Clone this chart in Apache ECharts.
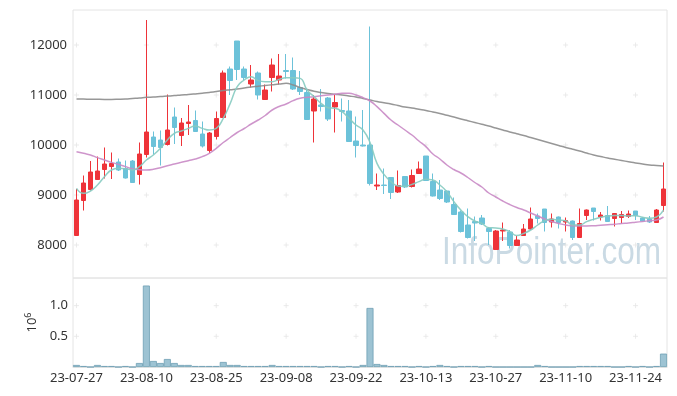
<!DOCTYPE html>
<html><head><meta charset="utf-8">
<script src="https://cdn.jsdelivr.net/npm/echarts@6/dist/echarts.min.js"></script>
<style>html,body{margin:0;padding:0;background:#fff}#c{width:677px;height:396px}</style>
</head><body><div id="c"></div>
<script>
var dates = ['23-07-27','23-07-28','23-07-31','23-08-01','23-08-02','23-08-03','23-08-04','23-08-07','23-08-08','23-08-09',
'23-08-10','23-08-11','23-08-14','23-08-16','23-08-17','23-08-18','23-08-21','23-08-22','23-08-23','23-08-24',
'23-08-25','23-08-28','23-08-29','23-08-30','23-08-31','23-09-01','23-09-04','23-09-05','23-09-06','23-09-07',
'23-09-08','23-09-11','23-09-12','23-09-13','23-09-14','23-09-15','23-09-18','23-09-19','23-09-20','23-09-21',
'23-09-22','23-09-25','23-09-26','23-09-27','23-10-04','23-10-05','23-10-06','23-10-10','23-10-11','23-10-12',
'23-10-13','23-10-16','23-10-17','23-10-18','23-10-19','23-10-20','23-10-23','23-10-24','23-10-25','23-10-26',
'23-10-27','23-10-30','23-10-31','23-11-01','23-11-02','23-11-03','23-11-06','23-11-07','23-11-08','23-11-09',
'23-11-10','23-11-13','23-11-14','23-11-15','23-11-16','23-11-17','23-11-20','23-11-21','23-11-22','23-11-23',
'23-11-24','23-11-27','23-11-28','23-11-29','23-11-30'];

var openP = [8190,8890,9110,9310,9510,9570,9660,9530,9680,9410,
9810,10160,10100,10010,10560,10190,10430,10490,10220,9890,
10170,10550,11520,12080,11520,11220,11440,10910,11350,11300,
11490,11490,11150,11050,10680,10800,10940,10760,10690,10680,
10080,10000,10000,9180,9200,9350,9060,9370,9170,9430,
9780,9270,9100,9080,8810,8660,8400,8470,8540,8330,
7910,8280,8260,7990,8190,8320,8580,8720,8460,8560,
8460,8480,8150,8590,8740,8560,8590,8530,8550,8570,
8680,8540,8520,8450,8790];
var closeP = [8900,9240,9460,9480,9620,9630,9500,9340,9250,9820,
10260,9970,9950,10300,10350,10440,10460,10270,9980,10240,
10530,11440,11290,11510,11350,11300,11000,11100,11600,11380,
11470,11120,11070,10510,10920,10770,10520,10850,10670,10070,
9990,9980,9230,9200,9190,9050,9190,9160,9390,9520,
9290,8980,8930,8860,8610,8270,8150,8440,8420,8270,
8280,8300,7990,8100,8320,8520,8530,8450,8520,8450,
8490,8150,8430,8700,8670,8600,8470,8630,8610,8620,
8590,8480,8460,8700,9120];
var lowP = [8180,8690,9090,9300,9330,9320,9480,9330,9240,9210,
9750,9810,9590,9990,10020,9980,10200,10260,9950,9840,
10110,10540,11000,11300,11300,11150,10910,10900,11070,11210,
11330,11100,11000,10500,10050,10670,10480,10250,10470,10060,
9750,9970,9190,9100,9020,8920,9040,9140,9150,9420,
9280,8970,8900,8840,8600,8250,8130,8080,8400,8000,
7900,8080,7930,7980,8180,8300,8430,8270,8350,8330,
8270,8100,8140,8500,8490,8490,8460,8370,8430,8540,
8500,8470,8440,8440,8670];
var highP = [9120,9390,9680,9770,9950,9850,9730,9690,9700,10050,
12500,10270,10290,11010,10750,10540,10800,10690,10470,10260,
10670,11490,11570,12080,11570,11600,11470,11210,11730,11820,
11820,11750,11480,11100,11000,11120,10960,11000,10930,10900,
10570,10700,12370,9430,9530,9360,9490,9380,9510,9670,
9780,9430,9300,9090,8950,8690,8730,8570,8600,8360,
8300,8450,8300,8180,8420,8750,8630,8720,8630,8570,
8550,8490,8730,8710,8740,8660,8780,8640,8680,8690,
8680,8550,8580,8720,9650];

var ma5 = [9133,9033,9080,9200,9367,9500,9533,9527,9500,9567,
9700,9800,9933,10100,10233,10280,10333,10380,10333,10300,
10333,10533,10833,11167,11300,11367,11287,11267,11267,11313,
11347,11347,11333,11100,10967,10833,10747,10733,10667,10533,
10400,10300,10050,9633,9413,9267,9180,9173,9213,9267,
9313,9300,9200,9067,8867,8700,8567,8480,8433,8347,
8340,8320,8267,8190,8233,8300,8400,8487,8513,8500,
8487,8400,8400,8467,8513,8553,8580,8590,8590,8580,
8587,8553,8533,8560,8700];
var ma20 = [9867,9833,9800,9747,9700,9653,9613,9567,9527,9507,
9500,9513,9547,9587,9620,9653,9687,9720,9767,9833,
9933,10050,10150,10250,10330,10420,10500,10590,10700,10770,
10820,10887,10933,10953,10967,10987,11000,11013,11033,11033,
11000,10947,10880,10767,10633,10500,10400,10300,10200,10080,
9967,9820,9720,9600,9510,9440,9350,9250,9160,9040,
8960,8880,8810,8750,8700,8640,8580,8520,8470,8430,
8400,8385,8380,8380,8385,8395,8405,8415,8430,8440,
8455,8470,8485,8500,8560];
var maLong = [10920,10918,10915,10913,10912,10912,10915,10920,10930,10940,
10953,10960,10968,10978,10988,11000,11010,11022,11035,11050,
11068,11090,11105,11120,11140,11160,11175,11190,11205,11220,
11233,11200,11150,11110,11075,11050,11030,11015,11000,10980,
10960,10930,10900,10870,10845,10820,10790,10760,10740,10715,
10690,10660,10630,10595,10560,10520,10485,10450,10415,10380,
10340,10300,10260,10225,10190,10150,10110,10070,10030,9990,
9950,9915,9880,9840,9800,9770,9740,9715,9690,9665,
9640,9620,9600,9590,9580];

// volume in units of 10^6
var volume = [0.033,0.016,0,0.033,0.016,0.016,0,0.016,0,0.065,
1.327,0.098,0.065,0.13,0.065,0.033,0.033,0.016,0.016,0.016,
0.016,0.082,0.033,0.033,0.016,0.016,0.016,0.016,0.033,0.016,
0.016,0.016,0.016,0.016,0.016,0,0.016,0.016,0,0.016,
0,0.033,0.962,0.049,0.033,0.016,0.016,0.016,0,0.016,
0,0.016,0.033,0.016,0,0.016,0.016,0.016,0,0.016,
0,0,0,0,0,0,0.033,0.016,0,0,
0,0,0.016,0.016,0.016,0.016,0.016,0,0,0.016,
0,0.016,0,0.016,0.218];

var priceTicks = [8000,9000,10000,11000,12000];
var volTicks = [0.5,1.0];

var ohlc = dates.map(function(d,i){return [openP[i],closeP[i],lowP[i],highP[i]];});
var crossMain = [], crossVol = [];
dates.forEach(function(d,i){ if(i%10===0){
  priceTicks.forEach(function(v){crossMain.push([d,v]);});
  volTicks.forEach(function(v){crossVol.push([d,v]);});
}});

var FONT = 'Noto Sans';
var chart = echarts.init(document.getElementById('c'));
var crossStyle = {color:'none', borderColor:'#e6e6e6', borderWidth:1};
chart.setOption({
  animation:false,
  backgroundColor:'#fff',
  grid:[
    {left:73, right:10, top:10, height:268, show:true, borderColor:'#e4e4e4', borderWidth:1},
    {left:73, right:10, top:278, height:89, show:true, borderColor:'#e4e4e4', borderWidth:1}
  ],
  xAxis:[
    {type:'category', gridIndex:0, data:dates, boundaryGap:true,
     axisLine:{show:false}, axisTick:{show:false}, axisLabel:{show:false}, splitLine:{show:false}},
    {type:'category', gridIndex:1, data:dates, boundaryGap:true,
     axisLine:{show:true, lineStyle:{color:'#e4e4e4'}}, axisTick:{show:false},
     axisLabel:{interval:9, color:'#333', fontFamily:FONT, fontSize:13, margin:5},
     splitLine:{show:false}}
  ],
  yAxis:[
    {type:'value', gridIndex:0, min:7340, max:12700, scale:true,
     axisLine:{show:false}, axisTick:{show:false}, splitLine:{show:false},
     axisLabel:{color:'#333', fontFamily:FONT, fontSize:13, margin:6, showMinLabel:false, showMaxLabel:false,
       formatter:function(v){return String(v);}}},
    {type:'value', gridIndex:1, min:0, max:1.45, interval:0.5,
     axisLine:{show:false}, axisTick:{show:false}, splitLine:{show:false},
     name:'10{s|6}', nameLocation:'middle', nameRotate:90, nameGap:32,
     nameTextStyle:{color:'#333', fontFamily:FONT, fontSize:13, rich:{s:{fontSize:9, verticalAlign:'top', padding:[0,0,8,0], color:'#333', fontFamily:FONT}}},
     axisLabel:{color:'#333', fontFamily:FONT, fontSize:13, margin:5,
       formatter:function(v){return (v===0.5||v===1)? v.toFixed(1):'';}}}
  ],
  graphic:[{type:'text', x:442, y:235, scaleX:0.83, scaleY:1, silent:true, z:0,
    style:{text:'InfoPointer.com', font:'38px "Liberation Sans"', fill:'#cadae4', textVerticalAlign:'top'}}],
  series:[
    {type:'scatter', xAxisIndex:0, yAxisIndex:0, data:crossMain, symbol:'path://M0,5L10,5M5,0L5,10', symbolSize:5, silent:true, z:0, itemStyle:crossStyle},
    {type:'scatter', xAxisIndex:1, yAxisIndex:1, data:crossVol, symbol:'path://M0,5L10,5M5,0L5,10', symbolSize:5, silent:true, z:0, itemStyle:crossStyle},
    {type:'candlestick', xAxisIndex:0, yAxisIndex:0, data:ohlc, barWidth:5,
     itemStyle:{color:'#ee3339', color0:'#6cc2d9', borderColor:'#ee3339', borderColor0:'#6cc2d9', borderWidth:1}},
    {type:'line', xAxisIndex:0, yAxisIndex:0, data:maLong, smooth:true, symbol:'none', lineStyle:{color:'#8c8c8c', width:1.5, opacity:0.9}},
    {type:'line', xAxisIndex:0, yAxisIndex:0, data:ma20, smooth:true, symbol:'none', lineStyle:{color:'#c98ac5', width:1.5, opacity:0.9}},
    {type:'line', xAxisIndex:0, yAxisIndex:0, data:ma5, smooth:true, symbol:'none', lineStyle:{color:'#86cbc1', width:1.5, opacity:0.9}},
    {type:'bar', xAxisIndex:1, yAxisIndex:1, data:volume, barCategoryGap:'0%', barWidth:7,
     itemStyle:{color:'#9dc3d3', borderColor:'#6f9fb4', borderWidth:0.8}}
  ]
});
</script></body></html>
